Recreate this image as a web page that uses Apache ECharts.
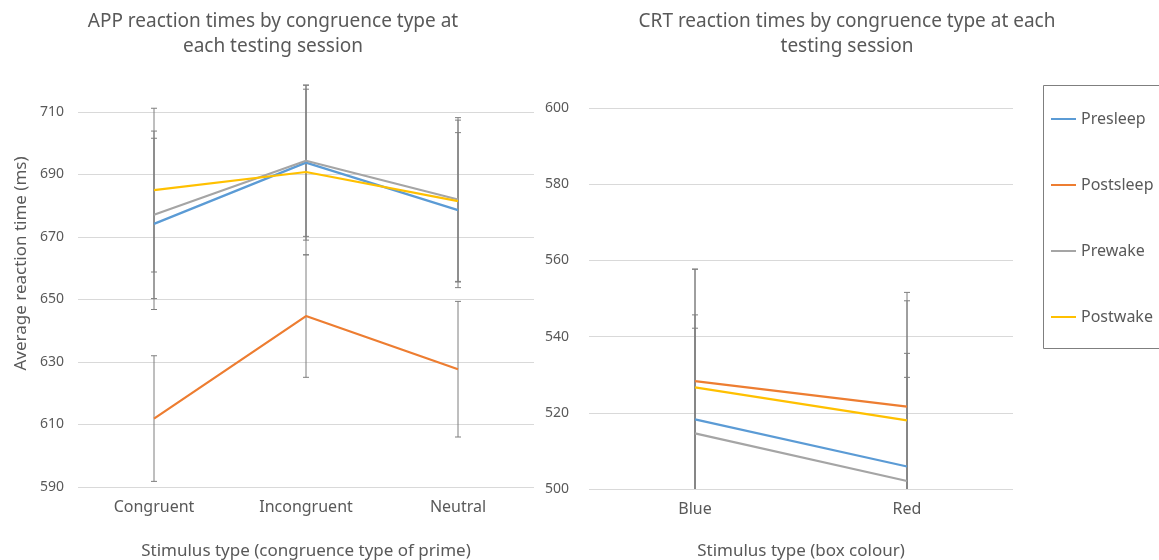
<!DOCTYPE html>
<html>
<head>
<meta charset="utf-8">
<script src="https://cdn.jsdelivr.net/npm/echarts@6/dist/echarts.min.js"></script>
<style>
  html, body { margin: 0; padding: 0; background: #fff; }
  #main { width: 1159px; height: 560px; }
</style>
</head>
<body>
<div id="main"></div>
<script>
// categories
const appCategories = ['Congruent', 'Incongruent', 'Neutral'];
const crtCategories = ['Blue', 'Red'];
const sessionNames = ['Presleep', 'Postsleep', 'Prewake', 'Postwake'];
const sessionColors = ['#5B9BD5', '#ED7D31', '#A5A5A5', '#FFC000'];

// APP means (ms)
const appPresleep = [674.2, 693.8, 678.6];
const appPostsleep = [611.9, 644.7, 627.7];
const appPrewake = [677.1, 694.4, 682.0];
const appPostwake = [685.0, 690.8, 681.5];
// APP error (+/-)
const appPresleepErr = [27.4, 24.8, 24.8];
const appPostsleepErr = [20.1, 19.6, 21.7];
const appPrewakeErr = [26.8, 24.2, 26.2];
const appPostwakeErr = [26.2, 26.5, 25.9];

// CRT means (ms)
const crtPresleep = [518.3, 505.9];
const crtPostsleep = [528.3, 521.6];
const crtPrewake = [514.6, 502.1];
const crtPostwake = [526.7, 518.0];
// CRT error (+/-)
const crtPresleepErr = [27.4, 29.7];
const crtPostsleepErr = [29.4, 30.0];
const crtPrewakeErr = [27.6, 27.2];
const crtPostwakeErr = [31.0, 31.4];

const appValues = [appPresleep, appPostsleep, appPrewake, appPostwake];
const appErrors = [appPresleepErr, appPostsleepErr, appPrewakeErr, appPostwakeErr];
const crtValues = [crtPresleep, crtPostsleep, crtPrewake, crtPostwake];
const crtErrors = [crtPresleepErr, crtPostsleepErr, crtPrewakeErr, crtPostwakeErr];

const FONT = 'Noto Sans';
const TEXT = '#595959';

// error bar: vertical line with caps, lower end cut at the plot bottom
function renderErrorBar(params, api) {
  const i = api.value(0);
  const v = api.value(1);
  const e = api.value(2);
  const top = api.coord([i, v + e]);
  const bot = api.coord([i, v - e]);
  const cs = params.coordSys;
  const floor = cs.y + cs.height;
  const cut = bot[1] > floor;
  const by = cut ? floor : bot[1];
  const cap = 3;
  const style = { stroke: '#7F7F7F', lineWidth: 1 };
  const children = [
    { type: 'line', shape: { x1: top[0], y1: top[1], x2: top[0], y2: by }, style: style },
    { type: 'line', shape: { x1: top[0] - cap, y1: top[1], x2: top[0] + cap, y2: top[1] }, style: style }
  ];
  if (!cut) {
    children.push({ type: 'line', shape: { x1: bot[0] - cap, y1: by, x2: bot[0] + cap, y2: by }, style: style });
  }
  return { type: 'group', children: children };
}

function buildSeries(values, errors, axisIndex) {
  const out = [];
  sessionNames.forEach(function (name, k) {
    out.push({
      name: name + ' err',
      type: 'custom',
      xAxisIndex: axisIndex,
      yAxisIndex: axisIndex,
      clip: false,
      z: 1,
      silent: true,
      renderItem: renderErrorBar,
      data: values[k].map(function (v, i) { return [i, v, errors[k][i]]; })
    });
  });
  sessionNames.forEach(function (name, k) {
    out.push({
      name: name,
      type: 'line',
      xAxisIndex: axisIndex,
      yAxisIndex: axisIndex,
      symbol: 'none',
      z: 3,
      lineStyle: { width: 2.25, color: sessionColors[k] },
      itemStyle: { color: sessionColors[k] },
      data: values[k]
    });
  });
  return out;
}

const chart = echarts.init(document.getElementById('main'), null, { renderer: 'canvas' });

const tickStyle = { color: TEXT, fontFamily: FONT, fontSize: 14 };
const catStyle = { color: TEXT, fontFamily: FONT, fontSize: 16 };
const nameStyle = { color: TEXT, fontFamily: FONT, fontSize: 17 };
const titleStyle = { color: TEXT, fontFamily: FONT, fontSize: 19, fontWeight: 'normal', lineHeight: 25 };

const option = {
  backgroundColor: '#ffffff',
  animation: false,
  textStyle: { fontFamily: FONT },
  title: [
    {
      text: 'APP reaction times by congruence type at\neach testing session',
      left: 268, top: 4, textAlign: 'center',
      textStyle: titleStyle
    },
    {
      text: 'CRT reaction times by congruence type at each\ntesting session',
      left: 842, top: 4, textAlign: 'center',
      textStyle: titleStyle
    }
  ],
  legend: {
    orient: 'vertical',
    left: 1046, top: 106,
    data: sessionNames,
    icon: 'rect',
    itemWidth: 25, itemHeight: 2,
    itemGap: 50,
    textStyle: { color: TEXT, fontFamily: FONT, fontSize: 16 }
  },
  graphic: [
    {
      type: 'rect',
      shape: { x: 1043.5, y: 85.5, width: 140, height: 263 },
      style: { fill: 'none', stroke: '#7F7F7F', lineWidth: 1 }
    }
  ],
  grid: [
    { left: 78, top: 112, width: 456, height: 375, outerBoundsMode: 'none' },
    { left: 589, top: 108, width: 424, height: 381, outerBoundsMode: 'none' }
  ],
  xAxis: [
    {
      gridIndex: 0, type: 'category', data: appCategories,
      axisLine: { show: false }, axisTick: { show: false },
      axisLabel: Object.assign({ margin: 12 }, catStyle),
      name: 'Stimulus type (congruence type of prime)',
      nameLocation: 'middle', nameGap: 56, nameTextStyle: nameStyle
    },
    {
      gridIndex: 1, type: 'category', data: crtCategories,
      axisLine: { show: false }, axisTick: { show: false },
      axisLabel: Object.assign({ margin: 12 }, catStyle),
      name: 'Stimulus type (box colour)',
      nameLocation: 'middle', nameGap: 54, nameTextStyle: nameStyle
    }
  ],
  yAxis: [
    {
      gridIndex: 0, type: 'value', min: 590, max: 710, interval: 20,
      axisLine: { show: false }, axisTick: { show: false },
      axisLabel: Object.assign({ margin: 14 }, tickStyle),
      splitLine: { lineStyle: { color: '#D9D9D9', width: 1 } },
      name: 'Average reaction time (ms)',
      nameLocation: 'middle', nameGap: 48,
      nameTextStyle: Object.assign({ padding: [0, 0, 0, 72] }, nameStyle)
    },
    {
      gridIndex: 1, type: 'value', min: 500, max: 600, interval: 20,
      axisLine: { show: false }, axisTick: { show: false },
      axisLabel: Object.assign({ margin: 20 }, tickStyle),
      splitLine: { lineStyle: { color: '#D9D9D9', width: 1 } }
    }
  ],
  series: buildSeries(appValues, appErrors, 0).concat(buildSeries(crtValues, crtErrors, 1))
};

chart.setOption(option);
</script>
</body>
</html>
